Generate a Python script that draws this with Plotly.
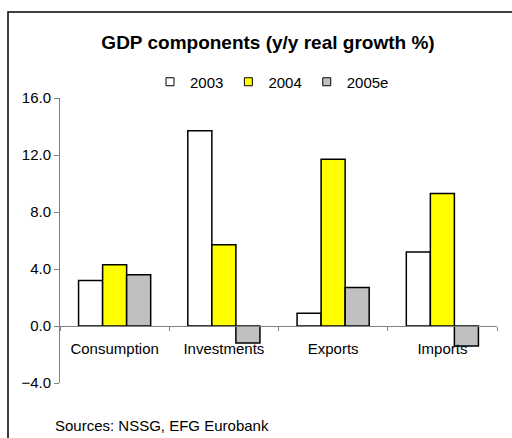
import plotly.graph_objects as go

# GDP components, y/y real growth (%)
categories = ["Consumption", "Investments", "Exports", "Imports"]
series_names = ["2003", "2004", "2005e"]
growth_2003 = [3.2, 13.7, 0.9, 5.2]
growth_2004 = [4.3, 5.7, 11.7, 9.3]
growth_2005e = [3.6, -1.2, 2.7, -1.4]
series_colors = ["#FFFFFF", "#FFFF00", "#C0C0C0"]

y_ticks = [-4.0, 0.0, 4.0, 8.0, 12.0, 16.0]
y_min, y_max = -4.0, 16.0

FONT = "Liberation Sans, Arial, sans-serif"

fig = go.Figure()
for name, vals, col in zip(series_names, [growth_2003, growth_2004, growth_2005e], series_colors):
    fig.add_trace(go.Bar(
        x=categories, y=vals, name=name,
        marker=dict(color=col, line=dict(color="#000000", width=1.5)),
        showlegend=False,
    ))
    # small square legend key
    fig.add_trace(go.Scatter(
        x=[None], y=[None], mode="markers", name=name,
        marker=dict(symbol="square", size=8, color=col,
                    line=dict(color="#000000", width=1)),
    ))

zero_pos = (0 - y_min) / (y_max - y_min)

fig.update_layout(
    width=512, height=438,
    margin=dict(l=60, r=15, t=98, b=55),
    paper_bgcolor="#FFFFFF", plot_bgcolor="#FFFFFF",
    font=dict(family=FONT, size=15, color="#000000"),
    barmode="group", bargap=0.34, bargroupgap=0,
    title=dict(text="<b>GDP components (y/y real growth %)</b>",
               x=(268 - 60) / 437, xref="paper", xanchor="center",
               y=1 - 42 / 438, yref="container", yanchor="middle",
               font=dict(size=19, family=FONT)),
    legend=dict(orientation="h", x=(272 - 60) / 437, xanchor="center",
                y=1 + (98 - 82) / 285, yanchor="middle",
                font=dict(size=15), itemwidth=30,
                bgcolor="rgba(0,0,0,0)", tracegroupgap=0),
    xaxis=dict(
        anchor="free", position=zero_pos,
        showline=True, linecolor="#808080", linewidth=1,
        ticks="outside", ticklen=4, tickcolor="#808080", tickson="boundaries",
        showgrid=False, zeroline=False,
        tickfont=dict(size=15), ticklabelstandoff=9,
    ),
    yaxis=dict(
        range=[y_min, y_max], tickvals=y_ticks, tickformat=".1f",
        showline=True, linecolor="#808080", linewidth=1,
        ticks="outside", ticklen=5, tickcolor="#808080",
        showgrid=False, zeroline=False,
        tickfont=dict(size=15),
    ),
    shapes=[dict(
        type="rect", xref="paper", yref="paper",
        x0=(8 - 60) / 437, x1=(520 - 60) / 437,
        y0=(383 - 445) / 285, y1=(383 - 12) / 285,
        line=dict(color="#000000", width=1.5), fillcolor="rgba(0,0,0,0)",
        layer="below",
    )],
    annotations=[dict(
        text="Sources: NSSG, EFG Eurobank", xref="paper", yref="paper",
        x=(53 - 60) / 437, y=(383 - 425) / 285,
        xanchor="left", yanchor="middle", showarrow=False,
        font=dict(size=15, family=FONT),
    )],
)

fig.write_html("out.html")
